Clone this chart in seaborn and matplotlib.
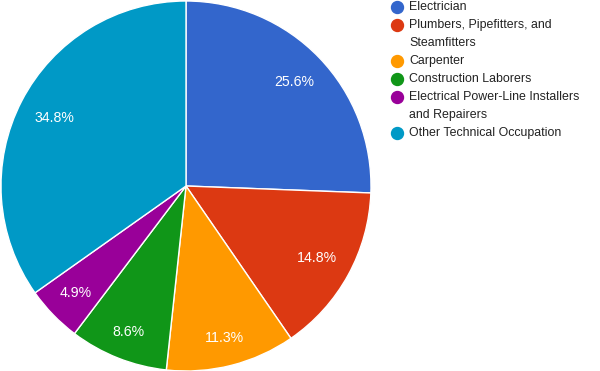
import matplotlib
matplotlib.use("Agg")
import matplotlib.pyplot as plt
from matplotlib.lines import Line2D
import numpy as np
import seaborn as sns

labels = ["Electrician", "Plumbers, Pipefitters, and\nSteamfitters", "Carpenter",
          "Construction Laborers", "Electrical Power-Line Installers\nand Repairers",
          "Other Technical Occupation"]
shares = [25.6, 14.8, 11.3, 8.6, 4.9, 34.8]
colors = sns.color_palette(["#3366cc", "#dc3912", "#ff9900", "#109618", "#990099", "#0099c6"])

sns.set_style("white")
plt.rcParams['font.family'] = ['Liberation Sans', 'DejaVu Sans']

fig = plt.figure(figsize=(6, 3.71), dpi=100)
W, H = 600, 371
cx, cy, r = 186, 186, 185
ax = fig.add_axes([(cx - r) / W, (H - cy - r) / H, 2 * r / W, 2 * r / H])

wedges, texts, autotexts = ax.pie(shares, colors=colors, startangle=90, counterclock=False,
                                  autopct='%1.1f%%', pctdistance=0.81,
                                  wedgeprops={'edgecolor': 'white', 'linewidth': 1},
                                  textprops={'color': 'white', 'fontsize': 10.2})
# small slices get their labels pushed a bit further out, like google does
label_r = [0.81, 0.81, 0.85, 0.85, 0.83, 0.80]
for w, t, lr in zip(wedges, autotexts, label_r):
    ang = np.deg2rad((w.theta1 + w.theta2) / 2)
    t.set_position((lr * np.cos(ang), lr * np.sin(ang)))
ax.set_xlim(-1, 1)
ax.set_ylim(-1, 1)
ax.axis('off')

# legend, drawn by hand so the wrapped lines keep google's spacing
row = 0
for lab, col in zip(labels, colors):
    yy = 1 - (6.5 + 18.1 * row) / H
    fig.add_artist(Line2D([397 / W], [yy], marker='o', markersize=8.6, color=col,
                          linestyle='none', transform=fig.transFigure))
    for i, line in enumerate(lab.split('\n')):
        fig.text(409 / W, 1 - (6.5 + 18.1 * (row + i)) / H, line, fontsize=8.9,
                 color='#222222', va='center', ha='left')
    row += len(lab.split('\n'))

fig.savefig('out.png', dpi=100)
